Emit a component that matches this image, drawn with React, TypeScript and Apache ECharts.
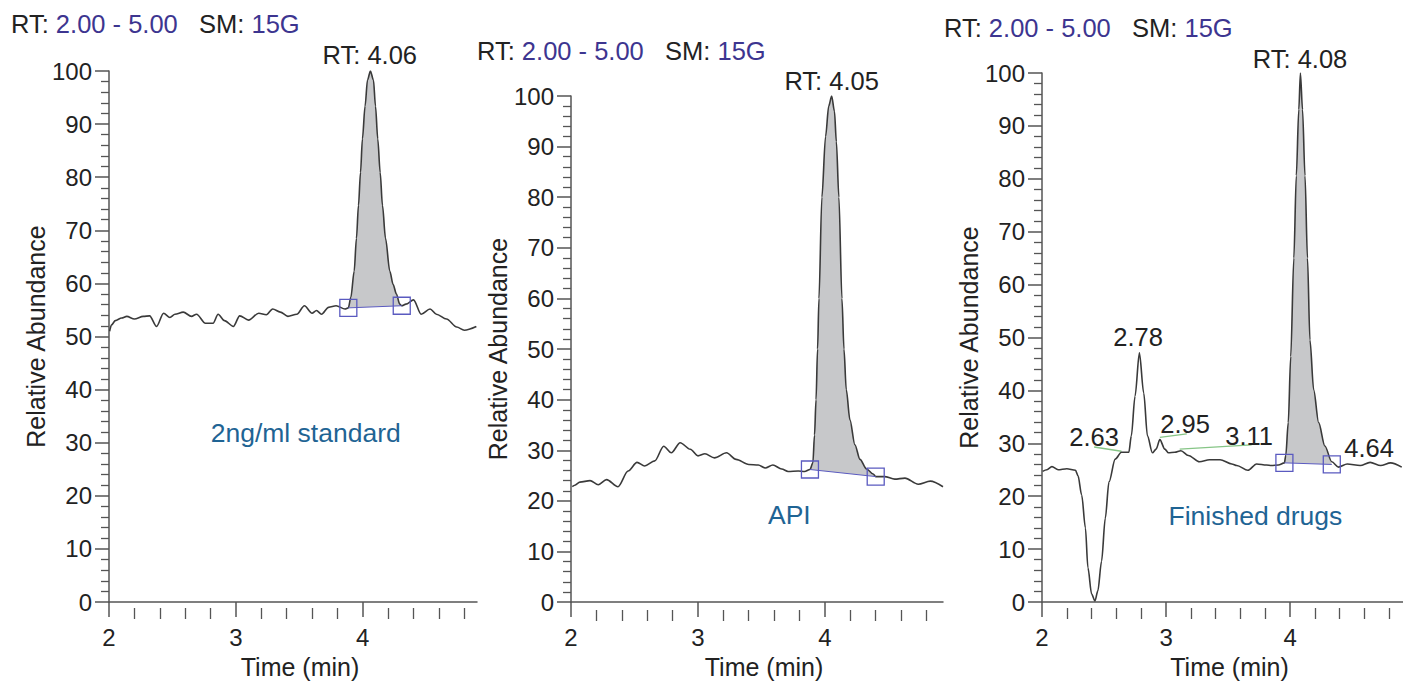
import React, { useEffect, useRef } from 'react';
import * as echarts from 'echarts';

// ---------- data ----------
const X_MIN = 2;
const X_MAX = [4.9, 4.93, 4.91];
const MAJOR_X_TICKS = [2, 3, 4];
const MINOR_X_TICKS = [2.2, 2.4, 2.6, 2.8, 3.2, 3.4, 3.6, 3.8, 4.2, 4.4, 4.6, 4.8];

const HEADER_RANGE = '2.00 - 5.00';
const HEADER_SM = '15G';

// 2ng/ml standard
const TRACE_STD: number[][] = [
  [2.005, 51.0], [2.02, 52.2], [2.05, 53.0], [2.10, 53.5], [2.14, 53.8], [2.20, 53.3], [2.27, 53.8],
  [2.32, 53.9], [2.375, 51.9], [2.43, 54.4], [2.48, 53.6], [2.52, 54.2], [2.585, 54.6], [2.65, 53.8],
  [2.69, 54.2], [2.76, 52.5], [2.82, 52.5], [2.86, 54.2], [2.91, 53.0], [2.98, 51.9], [3.03, 53.9],
  [3.10, 53.1], [3.18, 54.4], [3.24, 54.1], [3.29, 55.2], [3.35, 54.6], [3.41, 53.8], [3.48, 54.2],
  [3.54, 55.8], [3.60, 54.4], [3.635, 54.9], [3.675, 54.2], [3.73, 55.5], [3.79, 55.8], [3.86, 55.2],
  [3.886, 55.4], [3.906, 57.4], [3.932, 62.3], [3.95, 68.5], [3.966, 74.7], [3.982, 80.9], [3.997, 87.2],
  [4.018, 93.4], [4.037, 98.3], [4.06, 100], [4.084, 98.3], [4.10, 93.4], [4.118, 87.2], [4.137, 80.9],
  [4.155, 74.7], [4.179, 68.5], [4.213, 62.3], [4.239, 59.8], [4.265, 58.0], [4.291, 56.1], [4.307, 55.8],
  [4.34, 56.1], [4.40, 56.9], [4.46, 54.2], [4.53, 55.2], [4.58, 54.2], [4.66, 53.3], [4.74, 51.8],
  [4.80, 51.2], [4.895, 51.9],
];
const MARKERS_STD: number[][] = [[3.886, 55.4], [4.307, 55.8]];

// API
const TRACE_API: number[][] = [
  [2.01, 22.8], [2.03, 23.1], [2.07, 23.7], [2.15, 24.0], [2.215, 23.2], [2.28, 24.2], [2.37, 22.8],
  [2.45, 25.9], [2.52, 27.6], [2.58, 26.9], [2.66, 27.9], [2.73, 30.8], [2.79, 29.5], [2.86, 31.5],
  [2.94, 30.2], [3.00, 28.9], [3.055, 29.3], [3.13, 28.5], [3.225, 29.5], [3.30, 28.2], [3.40, 27.2],
  [3.475, 27.1], [3.53, 26.5], [3.59, 27.1], [3.66, 26.3], [3.71, 25.8], [3.79, 25.9], [3.84, 25.8],
  [3.882, 26.2], [3.905, 27.5], [3.918, 33.0], [3.930, 40.0], [3.942, 50.0], [3.953, 60.0], [3.976, 80.0],
  [4.005, 92.0], [4.03, 98.0], [4.053, 100], [4.075, 97.0], [4.09, 91.0], [4.11, 80.0], [4.134, 60.0],
  [4.15, 50.0], [4.168, 42.0], [4.197, 36.0], [4.236, 31.1], [4.276, 28.2], [4.328, 26.3], [4.38, 25.3],
  [4.40, 24.8], [4.47, 24.8], [4.55, 24.3], [4.63, 24.5], [4.735, 23.3], [4.83, 23.9], [4.93, 22.8],
];
const MARKERS_API: number[][] = [[3.882, 26.2], [4.40, 24.8]];

// Finished drugs
const TRACE_DRUG: number[][] = [
  [2.005, 24.7], [2.04, 25.0], [2.08, 25.6], [2.13, 25.0], [2.20, 25.2], [2.27, 24.9], [2.29, 23.9],
  [2.32, 20.2], [2.35, 14.0], [2.37, 6.5], [2.40, 1.5], [2.427, 0.2], [2.45, 2.1], [2.48, 7.7],
  [2.51, 15.8], [2.54, 22.7], [2.59, 27.0], [2.64, 28.3], [2.70, 28.3], [2.72, 31.4], [2.75, 38.9],
  [2.785, 47.1], [2.82, 39.5], [2.85, 31.4], [2.89, 28.2], [2.92, 28.9], [2.95, 30.7], [2.99, 28.9],
  [3.02, 28.2], [3.07, 28.3], [3.12, 28.6], [3.18, 27.7], [3.27, 26.5], [3.35, 26.9], [3.435, 26.9],
  [3.53, 26.1], [3.57, 25.8], [3.66, 24.9], [3.73, 26.1], [3.81, 25.9], [3.85, 25.8], [3.905, 25.9],
  [3.954, 26.3], [3.965, 27.7], [3.985, 33.9], [4.005, 46.4], [4.03, 65.0], [4.05, 80.6], [4.07, 93.1],
  [4.083, 100], [4.10, 93.1], [4.12, 80.6], [4.14, 65.0], [4.16, 49.5], [4.19, 40.1], [4.23, 33.9],
  [4.28, 29.5], [4.336, 26.5], [4.39, 25.5], [4.46, 26.1], [4.565, 25.8], [4.645, 26.4], [4.73, 25.8],
  [4.81, 26.3], [4.90, 25.5],
];
const MARKERS_DRUG: number[][] = [[3.954, 26.3], [4.336, 26.0]];

const PEAK_LABELS = ['RT: 4.06', 'RT: 4.05', 'RT: 4.08'];
const PEAK_LABEL_POS: number[][] = [[4.055, 103], [4.053, 103], [4.08, 102.7]];
const SAMPLE_NAMES = ['2ng/ml standard', 'API', 'Finished drugs'];
const SAMPLE_NAME_POS: number[][] = [[3.55, 31.8], [3.72, 17.3], [3.72, 16.3]];

const DRUG_PEAK_LABELS = ['2.63', '2.78', '2.95', '3.11', '4.64'];
const DRUG_PEAK_LABEL_POS: number[][] = [[2.42, 31.2], [2.774, 50.1], [3.153, 33.7], [3.67, 31.4], [4.637, 29.1]];
const DRUG_LEADERS: number[][][] = [
  [[2.42, 29.3], [2.64, 28.5]],
  [[2.95, 31.1], [3.167, 31.8]],
  [[3.11, 28.9], [3.69, 29.7]],
];

// ---------- layout / style ----------
const GRIDS = [
  { left: 109, top: 71, width: 368, height: 537 },
  { left: 571, top: 96, width: 372, height: 514 },
  { left: 1042, top: 73, width: 361, height: 535 },
];
const HEADER_POS = [[11, 24], [477, 51], [944, 27.5]];
const Y_NAME_GAP = [61, 58.5, 61];
const X_NAME_GAP = [49, 50, 52];

const FONT = "'Liberation Sans', Arial, Helvetica, sans-serif";
const AXIS_COLOR = '#555';
const TEXT_COLOR = '#222';
const PURPLE = '#3d3590';
const BLUE = '#1f6494';
const MARKER_COLOR = '#5a5ac0';
const FILL = '#c7c8ca';
const LEADER = '#86c586';

const TICK_FONT = 24;
const NAME_FONT = 25;
const PEAK_FONT = 25.5;
const HEADER_FONT = 25.5;
const SAMPLE_FONT = 26.5;

const PANELS = [
  { trace: TRACE_STD, markers: MARKERS_STD },
  { trace: TRACE_API, markers: MARKERS_API },
  { trace: TRACE_DRUG, markers: MARKERS_DRUG },
];

function buildOption() {
  const grid: any[] = [...GRIDS, ...GRIDS].map((g) => ({ ...g, containLabel: false }));
  const xAxis: any[] = [];
  const yAxis: any[] = [];
  const series: any[] = [];

  PANELS.forEach((p, i) => {
    xAxis.push({
      gridIndex: i,
      type: 'value',
      min: X_MIN,
      max: X_MAX[i],
      interval: 1,
      axisLine: { show: true, lineStyle: { color: AXIS_COLOR, width: 1.5 } },
      axisTick: { show: true, length: 15, customValues: MAJOR_X_TICKS, lineStyle: { color: AXIS_COLOR, width: 1.5 } },
      axisLabel: {
        show: true,
        customValues: MAJOR_X_TICKS,
        margin: 23,
        fontSize: TICK_FONT,
        color: TEXT_COLOR,
        fontFamily: FONT,
        formatter: (v: number) => (Number.isInteger(v) ? String(v) : ''),
      },
      splitLine: { show: false },
      name: 'Time (min)',
      nameLocation: 'middle',
      nameGap: X_NAME_GAP[i],
      nameTextStyle: { fontSize: NAME_FONT, color: TEXT_COLOR, fontFamily: FONT, padding: [0, 0, 0, 14] },
    });
    yAxis.push({
      gridIndex: i,
      type: 'value',
      min: 0,
      max: 100,
      interval: 10,
      axisLine: { show: true, lineStyle: { color: AXIS_COLOR, width: 1.5 } },
      axisTick: { show: true, length: 14, lineStyle: { color: AXIS_COLOR, width: 1.5 } },
      minorTick: { show: true, splitNumber: 5, length: 8, lineStyle: { color: AXIS_COLOR, width: 1.3 } },
      axisLabel: { show: true, margin: 17, fontSize: TICK_FONT, color: TEXT_COLOR, fontFamily: FONT },
      splitLine: { show: false },
      minorSplitLine: { show: false },
      name: 'Relative Abundance',
      nameLocation: 'middle',
      nameGap: Y_NAME_GAP[i],
      nameRotate: 90,
      nameTextStyle: { fontSize: NAME_FONT, color: TEXT_COLOR, fontFamily: FONT },
    });

    const trace = p.trace;
    const m1 = p.markers[0];
    const m2 = p.markers[1];

    // shaded peak area (between trace and baseline)
    series.push({
      type: 'custom',
      xAxisIndex: i,
      yAxisIndex: i,
      silent: true,
      z: 1,
      data: [m1],
      renderItem: (_params: any, api: any) => {
        const inner = trace.filter((pt) => pt[0] > m1[0] && pt[0] < m2[0]);
        const pts = [m1, ...inner, m2].map((pt) => api.coord(pt));
        return { type: 'polygon', shape: { points: pts }, style: { fill: FILL } };
      },
    });
    // trace
    series.push({
      type: 'line',
      xAxisIndex: i,
      yAxisIndex: i,
      data: trace,
      showSymbol: false,
      symbol: 'none',
      smooth: 0.3,
      smoothMonotone: 'x',
      lineStyle: { color: '#3a3a3a', width: 1.6 },
      z: 3,
      silent: true,
    });
    // baseline
    series.push({
      type: 'line',
      xAxisIndex: i,
      yAxisIndex: i,
      data: p.markers,
      symbol: 'none',
      lineStyle: { color: MARKER_COLOR, width: 1 },
      z: 4,
      silent: true,
    });
    // baseline end markers
    series.push({
      type: 'scatter',
      xAxisIndex: i,
      yAxisIndex: i,
      data: p.markers,
      symbol: 'rect',
      symbolSize: 17,
      itemStyle: { color: 'rgba(255,255,255,0)', borderColor: MARKER_COLOR, borderWidth: 1.3, opacity: 1 },
      z: 5,
      silent: true,
    });
    // text labels
    const labelData: any[] = [
      { value: PEAK_LABEL_POS[i], name: PEAK_LABELS[i], label: { color: TEXT_COLOR, fontSize: PEAK_FONT } },
      { value: SAMPLE_NAME_POS[i], name: SAMPLE_NAMES[i], label: { color: BLUE, fontSize: SAMPLE_FONT } },
    ];
    if (i === 2) {
      DRUG_PEAK_LABELS.forEach((t, k) => {
        labelData.push({ value: DRUG_PEAK_LABEL_POS[k], name: t, label: { color: TEXT_COLOR, fontSize: PEAK_FONT } });
      });
    }
    series.push({
      type: 'scatter',
      xAxisIndex: i,
      yAxisIndex: i,
      data: labelData,
      symbolSize: 1,
      itemStyle: { color: 'rgba(0,0,0,0)', opacity: 1 },
      clip: false,
      silent: true,
      z: 6,
      label: { show: true, position: 'inside', formatter: '{b}', fontFamily: FONT, opacity: 1 },
    });
  });

  // overlay grids for minor x ticks
  PANELS.forEach((_p, i) => {
    xAxis.push({
      gridIndex: i + 3,
      type: 'value',
      min: X_MIN,
      max: X_MAX[i],
      interval: 0.2,
      axisLine: { show: false },
      axisTick: { show: true, length: 11, customValues: MINOR_X_TICKS, lineStyle: { color: AXIS_COLOR, width: 1.3 } },
      axisLabel: { show: false },
      splitLine: { show: false },
    });
    yAxis.push({ gridIndex: i + 3, type: 'value', min: 0, max: 100, show: false });
  });

  // green leader lines (panel 3)
  series.push({
    type: 'lines',
    coordinateSystem: 'cartesian2d',
    xAxisIndex: 2,
    yAxisIndex: 2,
    data: DRUG_LEADERS.map((c) => ({ coords: c })),
    lineStyle: { color: LEADER, width: 1.3, opacity: 1 },
    silent: true,
    z: 2,
  });

  const graphic = HEADER_POS.map((pos) => ({
    type: 'text',
    x: pos[0],
    y: pos[1],
    silent: true,
    style: {
      text: `{a|RT:} {b|${HEADER_RANGE}}   {a|SM:} {b|${HEADER_SM}}`,
      verticalAlign: 'middle',
      textVerticalAlign: 'middle',
      font: `${HEADER_FONT}px ${FONT}`,
      rich: {
        a: { fill: TEXT_COLOR, color: TEXT_COLOR, fontSize: HEADER_FONT, fontFamily: FONT },
        b: { fill: PURPLE, color: PURPLE, fontSize: HEADER_FONT, fontFamily: FONT },
      },
    },
  }));

  return {
    animation: false,
    backgroundColor: '#ffffff',
    grid,
    xAxis,
    yAxis,
    series,
    graphic,
  };
}

export default function App() {
  const ref = useRef<HTMLDivElement>(null);
  useEffect(() => {
    if (!ref.current) return;
    const chart = echarts.init(ref.current, null, { renderer: 'svg' });
    chart.setOption(buildOption() as any);
    return () => chart.dispose();
  }, []);
  return (
    <div
      ref={ref}
      style={{ position: 'absolute', left: 0, top: 0, width: 1403, height: 684, background: '#fff' }}
    />
  );
}
